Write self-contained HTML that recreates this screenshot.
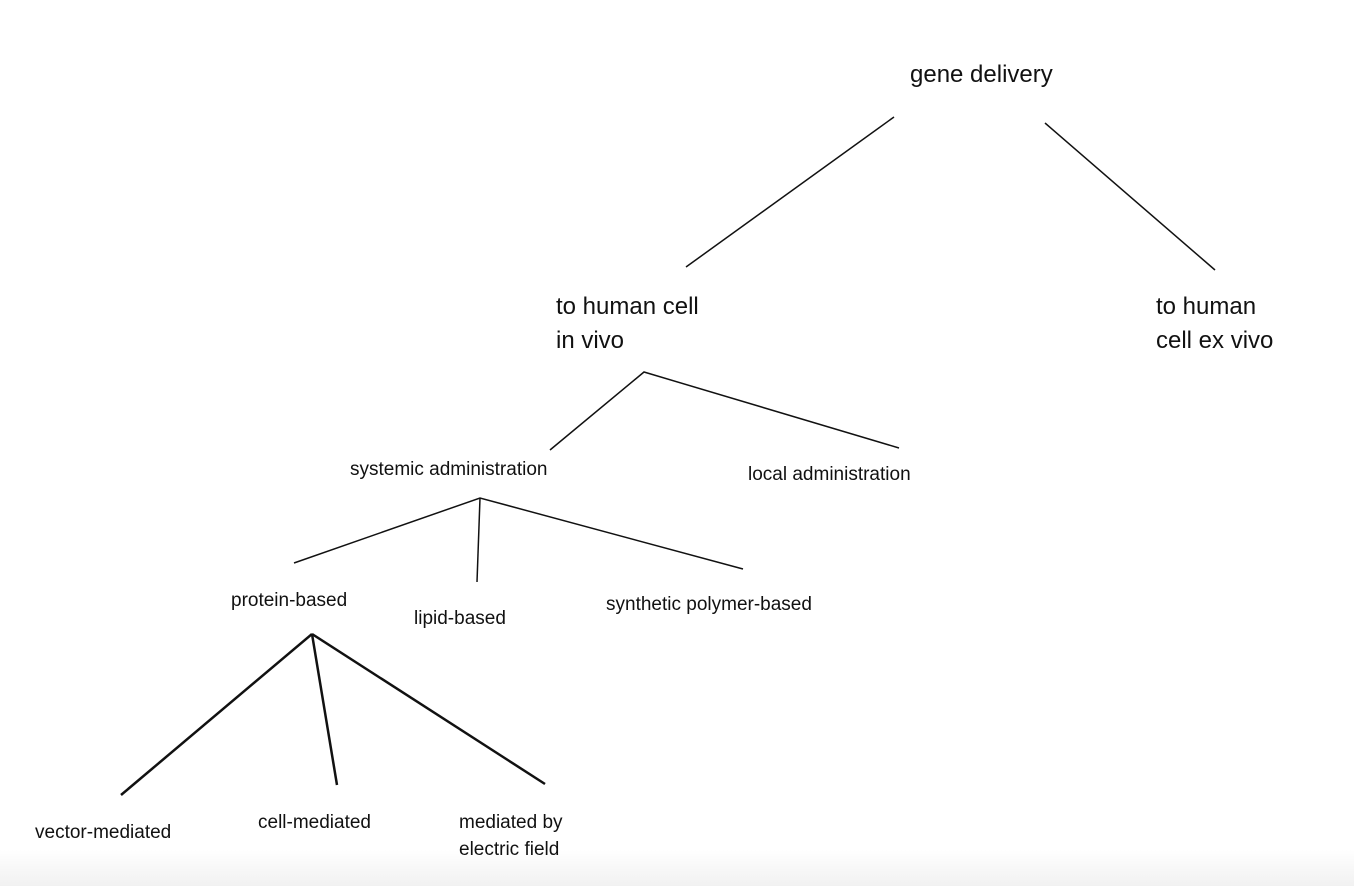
<!DOCTYPE html>
<html><head><meta charset="utf-8"><style>
html,body{margin:0;padding:0;background:#fff;}
svg{display:block;}
text{font-family:"Liberation Sans",Arial,sans-serif;fill:#111;}
</style></head><body>
<svg width="1354" height="886" viewBox="0 0 1354 886" xmlns="http://www.w3.org/2000/svg">
<defs><linearGradient id="g" x1="0" y1="0" x2="0" y2="1"><stop offset="0" stop-color="#fff"/><stop offset="1" stop-color="#f1f1f1"/></linearGradient></defs>
<rect x="0" y="850" width="1354" height="36" fill="url(#g)"/>
<g stroke="#111" fill="none">
<line x1="894" y1="117" x2="686" y2="267" stroke-width="1.5"/>
<line x1="1045" y1="123" x2="1215" y2="270" stroke-width="1.5"/>
<polyline points="550,450 644,372 899,448" stroke-width="1.5"/>
<polyline points="294,563 480,498 743,569" stroke-width="1.5"/>
<line x1="480" y1="498" x2="477" y2="582" stroke-width="1.5"/>
<line x1="312" y1="634" x2="121" y2="795" stroke-width="2.5"/>
<line x1="312" y1="634" x2="337" y2="785" stroke-width="2.5"/>
<line x1="312" y1="634" x2="545" y2="784" stroke-width="2.5"/>
</g>
<text x="910" y="82" font-size="24">gene delivery</text>
<text x="556" y="314" font-size="24">to human cell</text>
<text x="556" y="348" font-size="24">in vivo</text>
<text x="1156" y="314" font-size="24">to human</text>
<text x="1156" y="348" font-size="24">cell ex vivo</text>
<text x="350" y="475" font-size="19">systemic administration</text>
<text x="748" y="480" font-size="19">local administration</text>
<text x="231" y="606" font-size="19">protein-based</text>
<text x="414" y="624" font-size="19">lipid-based</text>
<text x="606" y="610" font-size="19">synthetic polymer-based</text>
<text x="35" y="838" font-size="19">vector-mediated</text>
<text x="258" y="828" font-size="19">cell-mediated</text>
<text x="459" y="828" font-size="19">mediated by</text>
<text x="459" y="855" font-size="19">electric field</text>
</svg>
</body></html>
